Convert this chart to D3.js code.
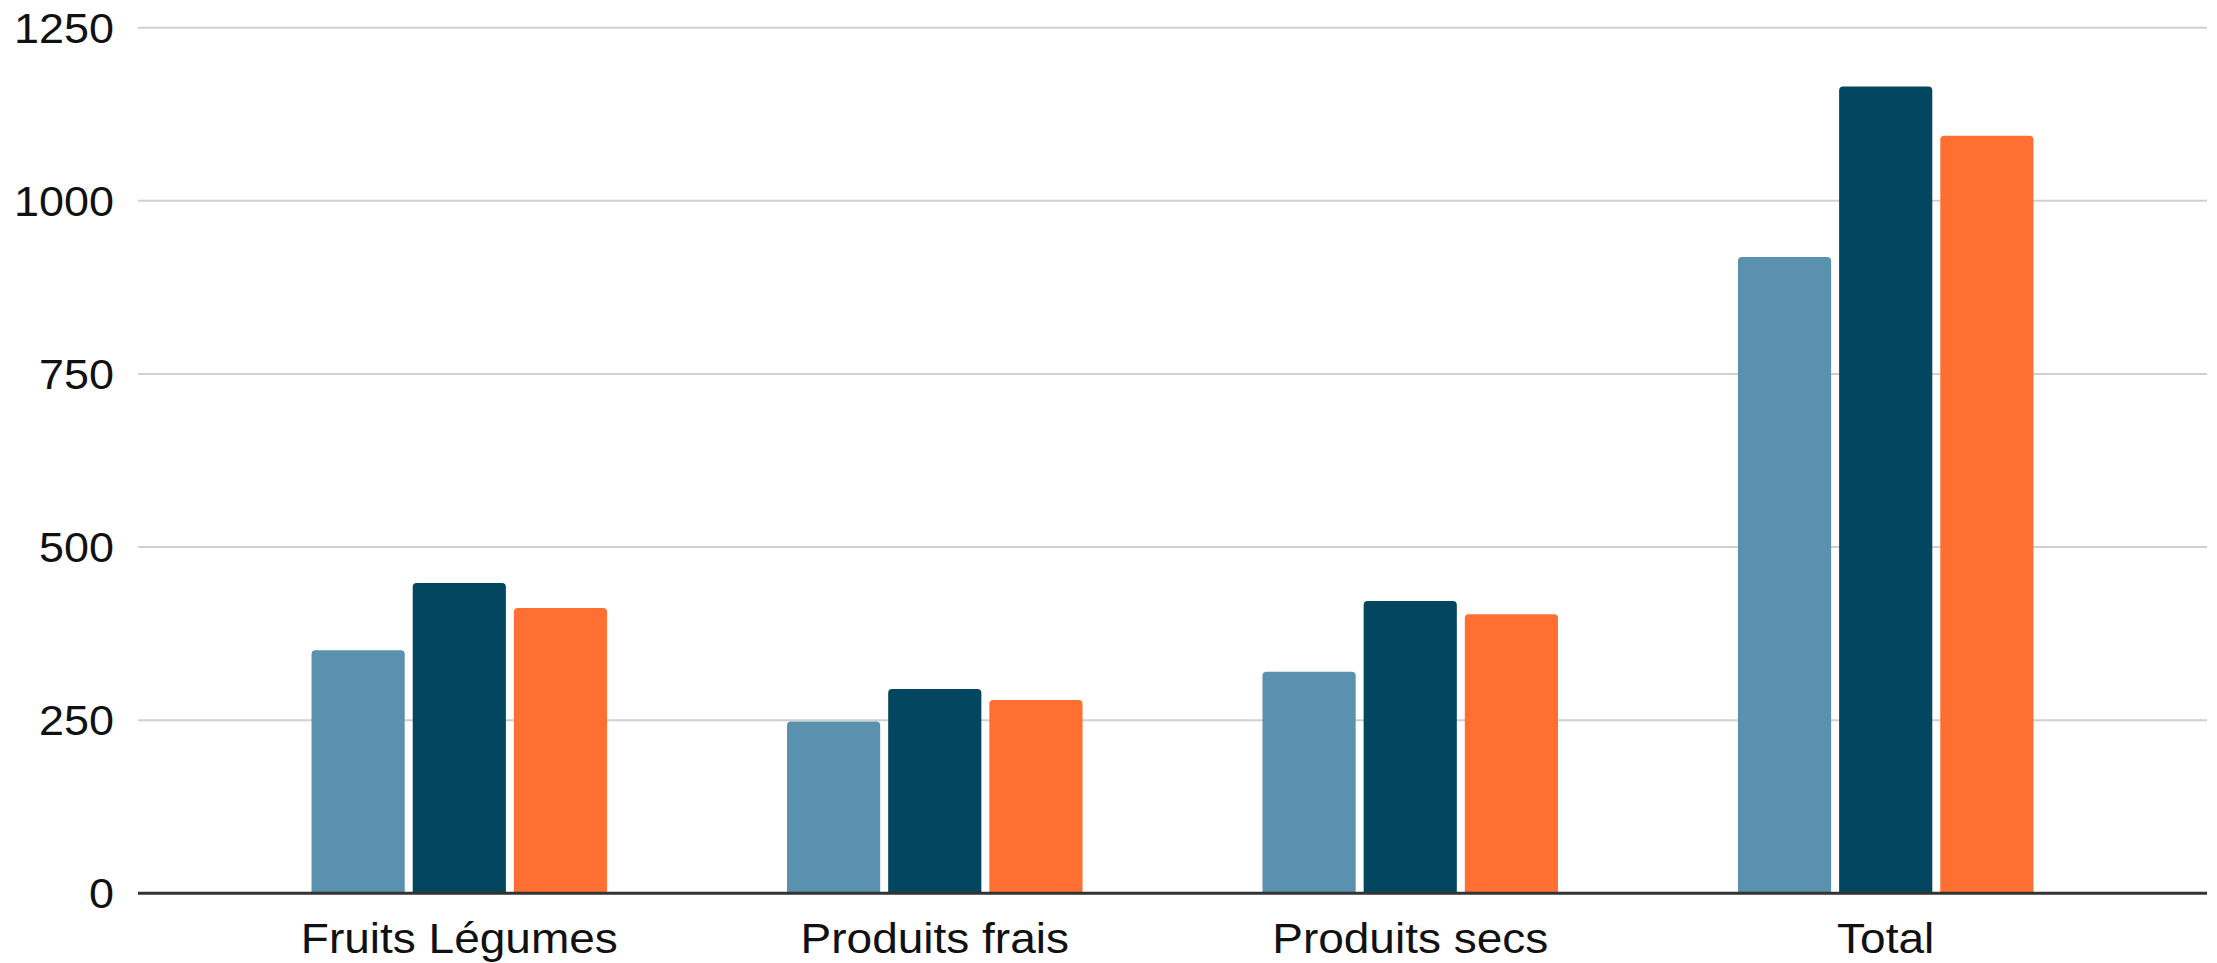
<!DOCTYPE html>
<html>
<head>
<meta charset="utf-8">
<script src="https://cdn.jsdelivr.net/npm/d3@7"></script>
<style>
  body { margin: 0; background: #ffffff; }
  text { font-family: "Liberation Sans", Arial, sans-serif; fill: #111111; }
</style>
</head>
<body>
<svg id="chart" width="2217" height="963"></svg>
<script>
// categories and series
const categories = ["Fruits Légumes", "Produits frais", "Produits secs", "Total"];
const seriesNames = ["Série 1", "Série 2", "Série 3"];
const serie1 = [351, 248, 320, 919];
const serie2 = [448, 295, 422, 1165];
const serie3 = [412, 279, 403, 1094];
const yTicks = [0, 250, 500, 750, 1000, 1250];
const colors = ["#5a91ae", "#02465f", "#ff6f31"];

const allSeries = [serie1, serie2, serie3];

const svg = d3.select("#chart");
const plotLeft = 138, plotRight = 2207, plotTop = 27.7, plotBottom = 893.3;
// the reference font is a bit wider than Liberation Sans
const stretch = 1.07;

const y = d3.scaleLinear().domain([0, 1250]).range([plotBottom, plotTop]);

const x0 = d3.scaleBand()
    .domain(categories)
    .range([plotLeft, plotRight])
    .paddingInner(0.3785)
    .paddingOuter(0.365);

const x1 = d3.scaleBand()
    .domain(seriesNames)
    .range([0, x0.bandwidth()])
    .paddingInner(0.079);

// gridlines
svg.append("g")
    .selectAll("line")
    .data(yTicks.filter(d => d !== 0))
    .join("line")
    .attr("x1", plotLeft)
    .attr("x2", plotRight)
    .attr("y1", d => y(d))
    .attr("y2", d => y(d))
    .attr("stroke", "#d0d0d0")
    .attr("stroke-width", 2);

// y tick labels
svg.append("g")
    .selectAll("text")
    .data(yTicks)
    .join("text")
    .attr("transform", d => "translate(114," + (y(d) + 15) + ") scale(" + stretch + ",1)")
    .attr("text-anchor", "end")
    .attr("font-size", 42)
    .text(d => d);

// bars with rounded top corners
function barPath(x, yTop, w, h, r) {
    r = Math.min(r, h, w / 2);
    return "M" + x + "," + (yTop + h) +
        "V" + (yTop + r) +
        "Q" + x + "," + yTop + " " + (x + r) + "," + yTop +
        "H" + (x + w - r) +
        "Q" + (x + w) + "," + yTop + " " + (x + w) + "," + (yTop + r) +
        "V" + (yTop + h) + "Z";
}

const rows = [];
categories.forEach((cat, i) => {
    seriesNames.forEach((s, j) => {
        rows.push({cat: cat, serie: s, idx: j, value: allSeries[j][i]});
    });
});

svg.append("g")
    .selectAll("path")
    .data(rows)
    .join("path")
    .attr("d", d => barPath(
        x0(d.cat) + x1(d.serie),
        y(d.value),
        x1.bandwidth(),
        y(0) - y(d.value),
        4))
    .attr("fill", d => colors[d.idx]);

// zero baseline
svg.append("line")
    .attr("x1", plotLeft)
    .attr("x2", plotRight)
    .attr("y1", y(0))
    .attr("y2", y(0))
    .attr("stroke", "#333333")
    .attr("stroke-width", 3);

// category labels
svg.append("g")
    .selectAll("text")
    .data(categories)
    .join("text")
    .attr("transform", d => "translate(" + (x0(d) + x0.bandwidth() / 2) + ",953) scale(" + stretch + ",1)")
    .attr("text-anchor", "middle")
    .attr("font-size", 43)
    .text(d => d);
</script>
</body>
</html>
